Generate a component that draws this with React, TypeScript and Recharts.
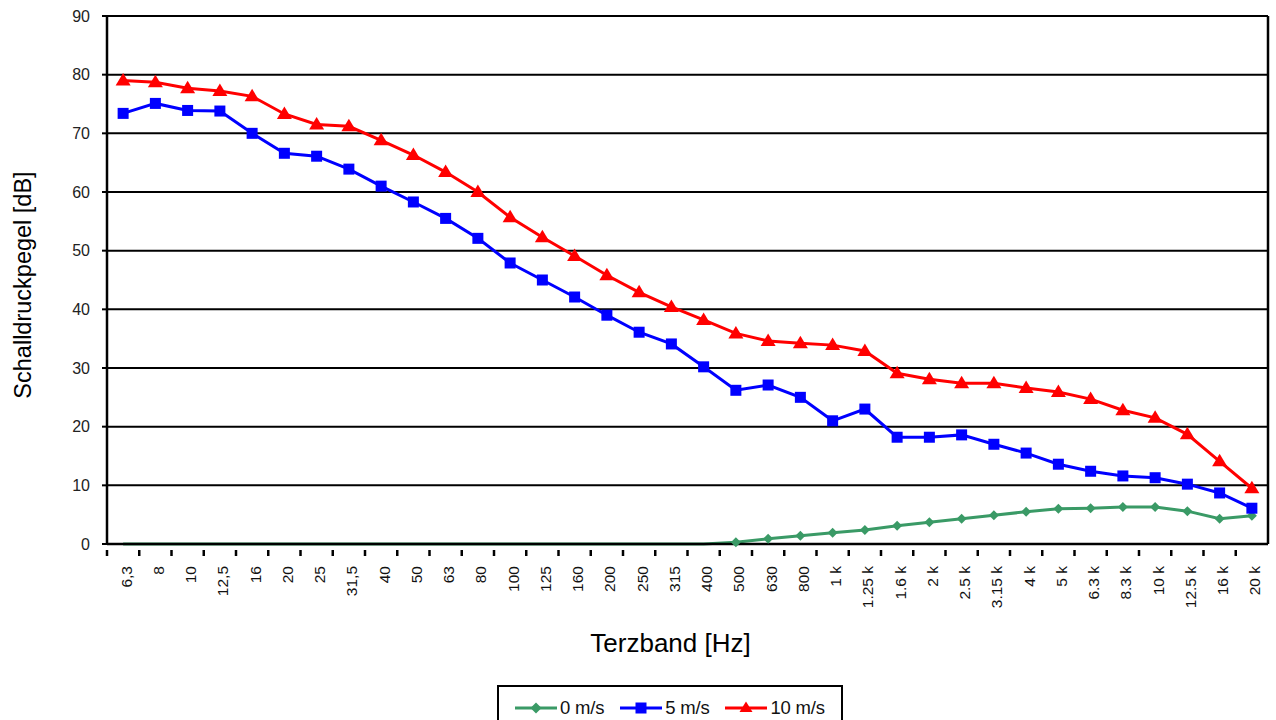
import {
  ComposedChart,
  Line,
  XAxis,
  YAxis,
  CartesianGrid,
  Legend,
  Label,
} from "recharts";

const bands = [
  "6,3", "8", "10", "12,5", "16", "20", "25", "31,5", "40", "50", "63", "80",
  "100", "125", "160", "200", "250", "315", "400", "500", "630", "800", "1 k",
  "1.25 k", "1.6 k", "2 k", "2.5 k", "3.15 k", "4 k", "5 k", "6.3 k", "8.3 k",
  "10 k", "12.5 k", "16 k", "20 k",
];

const wind0 = [
  0, 0, 0, 0, 0, 0, 0, 0, 0, 0, 0, 0, 0, 0, 0, 0, 0, 0, 0, 0.3, 0.9, 1.4, 1.9,
  2.4, 3.1, 3.7, 4.3, 4.9, 5.5, 6.0, 6.1, 6.3, 6.3, 5.6, 4.3, 4.8,
];
const wind5 = [
  73.4, 75.1, 73.9, 73.8, 70.0, 66.6, 66.1, 63.9, 61.0, 58.3, 55.5, 52.1, 47.9,
  45.0, 42.1, 39.0, 36.1, 34.1, 30.2, 26.2, 27.1, 25.0, 21.0, 23.0, 18.2, 18.2,
  18.6, 17.0, 15.5, 13.6, 12.4, 11.6, 11.3, 10.2, 8.7, 6.1,
];
const wind10 = [
  79.0, 78.7, 77.7, 77.2, 76.3, 73.3, 71.5, 71.2, 68.8, 66.3, 63.4, 60.0, 55.7,
  52.3, 49.1, 45.8, 42.9, 40.4, 38.2, 35.9, 34.6, 34.2, 33.9, 32.9, 29.1, 28.1,
  27.4, 27.4, 26.6, 25.9, 24.7, 22.8, 21.5, 18.7, 14.1, 9.5,
];
const yTicks = [0, 10, 20, 30, 40, 50, 60, 70, 80, 90];

const data = bands.map((band, i) => ({
  band,
  w0: wind0[i],
  w5: wind5[i],
  w10: wind10[i],
}));

const FONT = "Arial, 'Liberation Sans', sans-serif";
const GREEN = "#3a9a66";
const BLUE = "#0000ff";
const RED = "#ff0000";

const W = 1276;
const H = 720;
const Y_W = 107;
const R_W = 8;
const HALF_BAND = (W - Y_W - R_W) / bands.length / 2;

const Diamond = ({ cx, cy, value }: any) => {
  if (cx == null || cy == null || !value) return null;
  return (
    <path
      d={`M${cx},${cy - 5}L${cx + 5},${cy}L${cx},${cy + 5}L${cx - 5},${cy}Z`}
      fill={GREEN}
    />
  );
};

const Square = ({ cx, cy }: any) => {
  if (cx == null || cy == null) return null;
  return <rect x={cx - 5.5} y={cy - 5.5} width={11} height={11} fill={BLUE} />;
};

const Triangle = ({ cx, cy }: any) => {
  if (cx == null || cy == null) return null;
  return (
    <path
      d={`M${cx},${cy - 7.5}L${cx + 7.5},${cy + 5}L${cx - 7.5},${cy + 5}Z`}
      fill={RED}
    />
  );
};

const BandTick = ({ x, y, payload }: any) => {
  const bx = x - HALF_BAND;
  const lx = x + 3;
  const ly = y + 14;
  return (
    <g>
      <line x1={bx} y1={y - 2} x2={bx} y2={y + 4} stroke="#000" strokeWidth={2.5} />
      <text
        x={lx}
        y={ly}
        transform={`rotate(-90, ${lx}, ${ly})`}
        textAnchor="end"
        dominantBaseline="central"
        fontSize={15.5}
        fontFamily={FONT}
        fill="#111"
      >
        {payload.value}
      </text>
    </g>
  );
};

const legendItems = [
  { name: "0 m/s", color: GREEN, shape: "diamond" },
  { name: "5 m/s", color: BLUE, shape: "square" },
  { name: "10 m/s", color: RED, shape: "triangle" },
];

const LegendBox = () => (
  <div style={{ position: "relative", width: W, height: 36 }}>
    <div
      style={{
        position: "absolute",
        left: 497,
        top: 1,
        width: 346,
        height: 50,
        border: "2px solid #000",
        boxSizing: "border-box",
        display: "flex",
        alignItems: "flex-start",
        paddingTop: 11,
        paddingLeft: 16,
        fontFamily: FONT,
        fontSize: 18.5,
        color: "#111",
        lineHeight: "20px",
      }}
    >
      {legendItems.map((it) => (
        <div
          key={it.name}
          style={{ display: "flex", alignItems: "center", marginRight: 16 }}
        >
          <svg width={42} height={14}>
            <line x1={0} y1={7} x2={42} y2={7} stroke={it.color} strokeWidth={3} />
            {it.shape === "diamond" && (
              <path d="M21,1.5L26.5,7L21,12.5L15.5,7Z" fill={it.color} />
            )}
            {it.shape === "square" && (
              <rect x={15.5} y={1.5} width={11} height={11} fill={it.color} />
            )}
            {it.shape === "triangle" && (
              <path d="M21,0.5L27.5,11L14.5,11Z" fill={it.color} />
            )}
          </svg>
          <span style={{ marginLeft: 3, letterSpacing: -0.2 }}>{it.name}</span>
        </div>
      ))}
    </div>
  </div>
);

export default function App() {
  return (
    <div style={{ position: "absolute", left: 0, top: 0, background: "#fff" }}>
      <ComposedChart
        width={W}
        height={H}
        data={data}
        margin={{ top: 16, right: 0, left: 0, bottom: 0 }}
      >
        <CartesianGrid vertical={false} stroke="#000" strokeWidth={2} />
        <XAxis
          dataKey="band"
          interval={0}
          height={140}
          padding={{ left: HALF_BAND, right: HALF_BAND }}
          tick={<BandTick />}
          tickLine={false}
          axisLine={{ stroke: "#000", strokeWidth: 2.5 }}
        >
          <Label
            value="Terzband [Hz]"
            position="insideBottom"
            offset={32}
            dx={-17}
            fontSize={26}
            fontFamily={FONT}
            fill="#000"
          />
        </XAxis>
        <YAxis
          domain={[0, 90]}
          ticks={yTicks}
          width={Y_W}
          tickSize={5}
          tickMargin={12}
          tick={{ fontSize: 16, fontFamily: FONT, fill: "#222" }}
          tickLine={{ stroke: "#000", strokeWidth: 2 }}
          axisLine={{ stroke: "#000", strokeWidth: 2.5 }}
        >
          <Label
            content={({ viewBox }: any) => {
              const cx = 23;
              const cy = viewBox.y + viewBox.height / 2 + 5;
              return (
                <text
                  x={cx}
                  y={cy}
                  transform={`rotate(-90, ${cx}, ${cy})`}
                  textAnchor="middle"
                  dominantBaseline="central"
                  fontSize={23.5}
                  fontFamily={FONT}
                  fill="#000"
                >
                  Schalldruckpegel [dB]
                </text>
              );
            }}
          />
        </YAxis>
        <YAxis
          yAxisId="right"
          orientation="right"
          domain={[0, 90]}
          width={R_W}
          tick={false}
          tickLine={false}
          axisLine={{ stroke: "#000", strokeWidth: 2.5 }}
        />
        <Legend
          verticalAlign="bottom"
          height={36}
          content={<LegendBox />}
          wrapperStyle={{ left: 0, width: W, height: 36, overflow: "hidden" }}
        />
        <Line
          dataKey="w0"
          name="0 m/s"
          stroke={GREEN}
          strokeWidth={3}
          dot={<Diamond />}
          activeDot={false}
          isAnimationActive={false}
        />
        <Line
          dataKey="w5"
          name="5 m/s"
          stroke={BLUE}
          strokeWidth={3}
          dot={<Square />}
          activeDot={false}
          isAnimationActive={false}
        />
        <Line
          dataKey="w10"
          name="10 m/s"
          stroke={RED}
          strokeWidth={3}
          dot={<Triangle />}
          activeDot={false}
          isAnimationActive={false}
        />
      </ComposedChart>
    </div>
  );
}
